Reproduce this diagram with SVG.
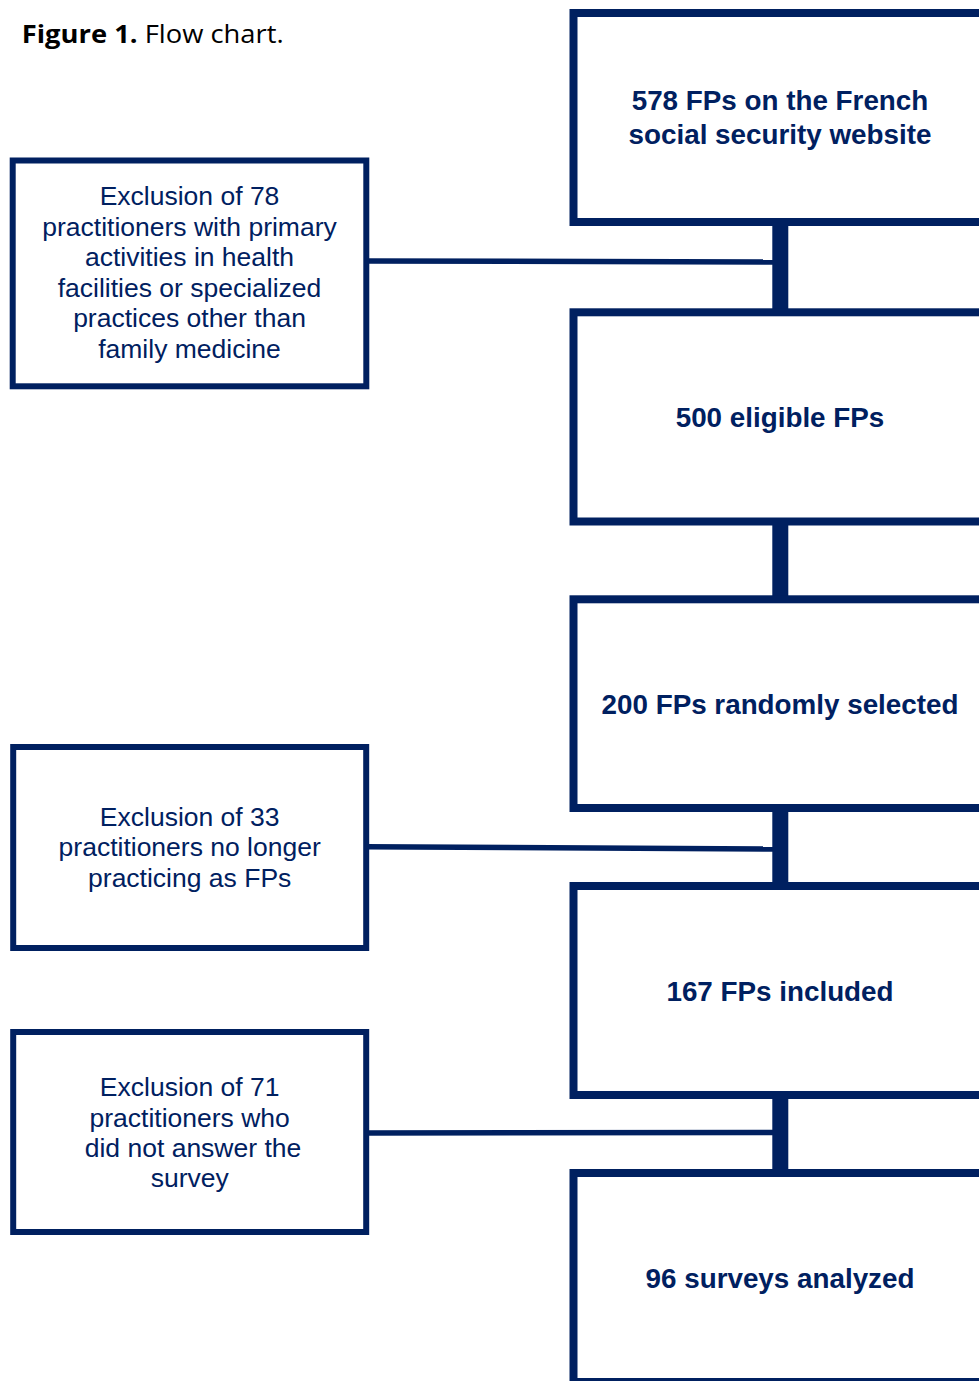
<svg xmlns="http://www.w3.org/2000/svg" width="979" height="1381" viewBox="0 0 979 1381">
<style>
.main{fill:#fff;stroke:#002060;stroke-width:8}
.side{fill:#fff;stroke:#002060;stroke-width:6}
.mt{font-family:"Liberation Sans",Arial,sans-serif;font-weight:bold;font-size:27.8px;fill:#002060;text-anchor:middle}
.st{font-family:"Liberation Sans",Arial,sans-serif;font-size:26.5px;fill:#002060;text-anchor:middle}
.h{stroke:#002060;stroke-width:5.5;fill:none}
.v{stroke:#002060;stroke-width:16;fill:none}
</style>
<rect width="979" height="1381" fill="#fff"/>
<text id="title" x="21.7" y="43.3" font-family="'Open Sans',sans-serif" font-size="25.5" fill="#000" textLength="262" lengthAdjust="spacingAndGlyphs"><tspan font-weight="bold">Figure 1.</tspan> Flow chart.</text>
<g id="connectors">
<line class="v" x1="780.3" y1="222" x2="780.3" y2="312"/>
<line class="v" x1="780.3" y1="521" x2="780.3" y2="600"/>
<line class="v" x1="780.3" y1="808" x2="780.3" y2="886"/>
<line class="v" x1="780.3" y1="1095" x2="780.3" y2="1173"/>
<line class="h" x1="366" y1="261" x2="773" y2="262"/>
<line class="h" x1="366" y1="846.7" x2="773" y2="849"/>
<line class="h" x1="366" y1="1133" x2="773" y2="1132.5"/>
</g>
<g id="n1"><rect class="main" x="573.5" y="13" width="420" height="209"/>
<text class="mt" x="780" y="110">578 FPs on the French</text>
<text class="mt" x="780" y="144">social security website</text></g>
<g id="n2"><rect class="main" x="573.5" y="312.3" width="420" height="209.2"/>
<text class="mt" x="780" y="427.3">500 eligible FPs</text></g>
<g id="n3"><rect class="main" x="573.5" y="599.3" width="420" height="208.7"/>
<text class="mt" x="780" y="714">200 FPs randomly selected</text></g>
<g id="n4"><rect class="main" x="573.5" y="886" width="420" height="209"/>
<text class="mt" x="780" y="1001">167 FPs included</text></g>
<g id="n5"><rect class="main" x="573.5" y="1173" width="420" height="209"/>
<text class="mt" x="780" y="1288.3">96 surveys analyzed</text></g>
<g id="e1"><rect class="side" x="12.7" y="160.5" width="353.6" height="225.8"/>
<text class="st" x="189.5" y="205">Exclusion of 78</text>
<text class="st" x="189.5" y="235.6">practitioners with primary</text>
<text class="st" x="189.5" y="266.2">activities in health</text>
<text class="st" x="189.5" y="296.8">facilities or specialized</text>
<text class="st" x="189.5" y="327.4">practices other than</text>
<text class="st" x="189.5" y="358">family medicine</text></g>
<g id="e2"><rect class="side" x="13.2" y="747" width="353" height="201"/>
<text class="st" x="189.7" y="825.7">Exclusion of 33</text>
<text class="st" x="189.7" y="855.7">practitioners no longer</text>
<text class="st" x="189.7" y="886.7">practicing as FPs</text></g>
<g id="e3"><rect class="side" x="13.2" y="1032" width="353" height="200"/>
<text class="st" x="189.7" y="1096">Exclusion of 71</text>
<text class="st" x="189.7" y="1126.7">practitioners who</text>
<text class="st" x="193" y="1156.7">did not answer the</text>
<text class="st" x="189.7" y="1187">survey</text></g>
</svg>
